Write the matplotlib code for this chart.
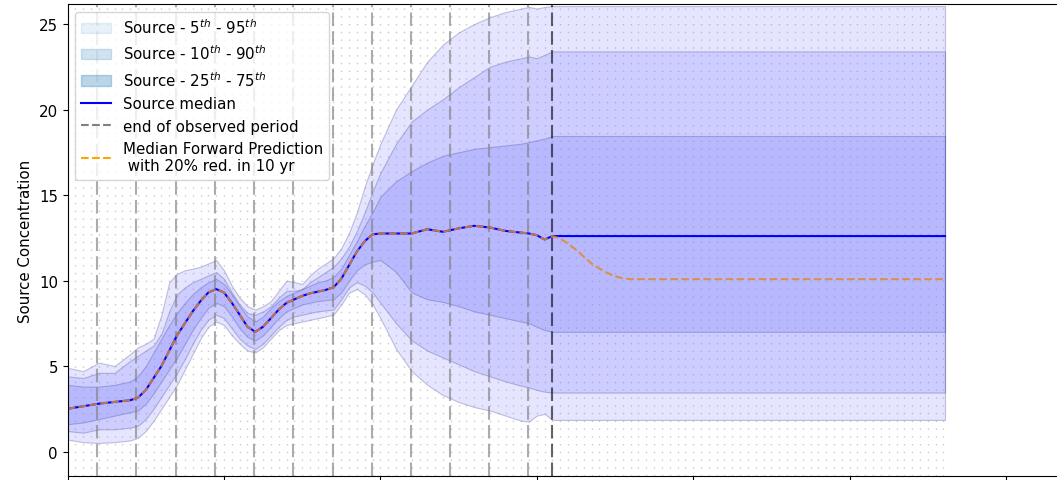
import numpy as np
import matplotlib.pyplot as plt
from matplotlib.patches import Patch
from matplotlib.lines import Line2D

plt.rcParams['font.size'] = 10.8

# years since start of record
years = [0, 2, 4, 6, 8, 9, 10, 11, 12, 13, 14, 15, 16, 17, 18, 19, 20, 21, 22, 23,
         24, 25, 26, 27, 28, 29, 30, 31, 32, 33, 34, 35, 36, 37, 38, 39, 40, 42, 44,
         46, 48, 50, 52, 54, 56, 58, 59, 60, 61, 62]

median = [2.5, 2.65, 2.8, 2.9, 3.0, 3.15, 3.6, 4.3, 5.0, 5.9, 6.8, 7.5, 8.2, 8.8, 9.3,
          9.5, 9.3, 8.7, 8.0, 7.3, 7.0, 7.3, 7.8, 8.3, 8.7, 8.9, 9.1, 9.25, 9.35, 9.45,
          9.6, 10.1, 10.9, 11.7, 12.3, 12.7, 12.75, 12.75, 12.75, 13.0, 12.85, 13.05,
          13.2, 13.1, 12.9, 12.8, 12.75, 12.65, 12.4, 12.6]

p95 = [4.9, 4.7, 5.2, 5.0, 5.7, 6.1, 6.3, 6.6, 8.0, 9.9, 10.4, 10.6, 10.7, 10.8, 11.0,
       11.2, 10.6, 9.7, 9.0, 8.5, 8.3, 8.5, 8.8, 9.4, 10.0, 9.9, 9.8, 10.3, 10.7, 11.0,
       11.3, 11.9, 12.8, 14.0, 15.5, 16.8, 18.0, 20.0, 21.4, 22.8, 23.8, 24.5, 25.0,
       25.4, 25.7, 25.9, 26.0, 25.9, 26.0, 26.05]
p90 = [4.4, 4.3, 4.6, 4.6, 5.3, 5.6, 5.9, 6.2, 6.9, 8.2, 9.2, 9.6, 9.9, 10.1, 10.3,
       10.5, 10.1, 9.3, 8.6, 8.1, 8.0, 8.2, 8.5, 9.0, 9.4, 9.4, 9.5, 9.9, 10.2, 10.5,
       10.8, 11.3, 12.0, 12.9, 14.0, 15.2, 16.3, 18.0, 19.3, 20.0, 20.6, 21.3, 21.9,
       22.5, 22.8, 23.0, 23.1, 23.0, 23.2, 23.4]
p75 = [3.9, 3.8, 3.8, 3.9, 4.1, 4.4, 5.0, 5.8, 6.6, 7.4, 8.1, 8.7, 9.2, 9.6, 9.9,
       10.1, 9.8, 9.2, 8.5, 7.9, 7.6, 7.9, 8.4, 8.8, 9.1, 9.3, 9.5, 9.7, 9.9, 10.0,
       10.2, 10.7, 11.5, 12.3, 13.2, 14.0, 14.9, 15.8, 16.4, 16.9, 17.3, 17.5, 17.7,
       17.8, 17.9, 18.0, 18.1, 18.2, 18.3, 18.45]
p25 = [1.6, 1.7, 1.9, 2.1, 2.3, 2.4, 2.8, 3.4, 4.1, 4.8, 5.5, 6.3, 7.1, 7.8, 8.4,
       8.7, 8.5, 7.9, 7.2, 6.7, 6.5, 6.8, 7.3, 7.8, 8.2, 8.4, 8.6, 8.7, 8.8, 8.85,
       8.9, 9.3, 10.0, 10.6, 10.95, 11.1, 11.2, 10.5, 9.3, 8.9, 8.75, 8.5, 8.2, 8.0,
       7.8, 7.6, 7.5, 7.3, 7.1, 7.0]
p10 = [1.2, 1.1, 1.3, 1.3, 1.4, 1.5, 1.9, 2.5, 3.2, 3.9, 4.6, 5.4, 6.3, 7.1, 7.7,
       8.0, 7.8, 7.2, 6.6, 6.2, 6.0, 6.3, 6.8, 7.3, 7.7, 7.9, 8.0, 8.1, 8.2, 8.25,
       8.3, 8.9, 9.6, 9.9, 9.7, 9.3, 8.7, 7.5, 6.5, 5.9, 5.5, 5.1, 4.7, 4.4, 4.1,
       3.85, 3.75, 3.6, 3.5, 3.45]
p05 = [0.7, 0.55, 0.5, 0.55, 0.65, 0.8, 1.2, 1.8, 2.5, 3.2, 3.9, 4.8, 5.7, 6.6, 7.3,
       7.6, 7.4, 6.8, 6.3, 5.9, 5.8, 6.1, 6.6, 7.1, 7.4, 7.5, 7.6, 7.7, 7.8, 7.9,
       8.0, 8.6, 9.3, 9.5, 9.2, 8.6, 7.8, 6.0, 4.7, 3.9, 3.3, 2.9, 2.6, 2.4, 2.1,
       1.8, 1.75, 2.1, 2.2, 1.85]

# forward prediction (20% reduction over 10 years)
fwd_years = [62, 63, 64, 65, 66, 67, 68, 69, 70, 71, 72, 112.2]
fwd_median = [12.6, 12.45, 12.15, 11.8, 11.4, 11.0, 10.7, 10.45, 10.25, 10.13, 10.08, 10.08]

forecast_end = 112.2
sample_dates = [3.8, 8.8, 13.8, 18.9, 23.8, 28.8, 33.9, 38.9, 43.9, 48.9, 53.9, 58.9]
obs_end = 62.0

fig = plt.figure(figsize=(10.57, 4.81), dpi=100)
ax = fig.add_axes([67.6 / 1057, 4 / 481, 1094.8 / 1057, 472 / 481])

x_all = np.array(years + [forecast_end])
face = (0, 0, 1, 0.1)
edge = (0.25, 0.25, 0.55, 0.3)
for lo, hi in [(p05, p95), (p10, p90), (p25, p75)]:
    ax.fill_between(x_all, lo + [lo[-1]], hi + [hi[-1]], facecolor=face,
                    edgecolor=edge, linewidth=0.8)

# yearly dotted lines
for yr in range(0, 113):
    ax.axvline(yr, color='0.55', alpha=0.45, lw=1, linestyle=(0, (1, 4.6)))

for d in sample_dates:
    ax.axvline(d, color='gray', alpha=0.65, lw=1.5, linestyle=(0, (6.5, 2.5)))
ax.axvline(obs_end, color='k', alpha=0.6, lw=1.5, linestyle=(0, (6.5, 2.5)))

ax.plot(years + [forecast_end], median + [median[-1]], color='blue', lw=1.5)
ax.plot(years + fwd_years[1:], median + fwd_median[1:], color='#e08a2c',
        alpha=0.85, lw=1.5, linestyle='--')

ax.set_xlim(0, 140)
ax.set_ylim(-1.43, 26.17)
ax.tick_params(axis='x', labelbottom=False)
ax.set_ylabel('Source Concentration')

handles = [
    Patch(color='tab:blue', alpha=0.1, label='Source - 5$^{th}$ - 95$^{th}$'),
    Patch(color='tab:blue', alpha=0.2, label='Source - 10$^{th}$ - 90$^{th}$'),
    Patch(color='tab:blue', alpha=0.3, label='Source - 25$^{th}$ - 75$^{th}$'),
    Line2D([], [], color='blue', lw=1.5, label='Source median'),
    Line2D([], [], color='gray', lw=1.5, linestyle='--', label='end of observed period'),
    Line2D([], [], color='orange', lw=1.5, linestyle='--',
           label='Median Forward Prediction\n with 20% red. in 10 yr'),
]
ax.legend(handles=handles, loc='upper left')

fig.savefig('out.png', dpi=100)
